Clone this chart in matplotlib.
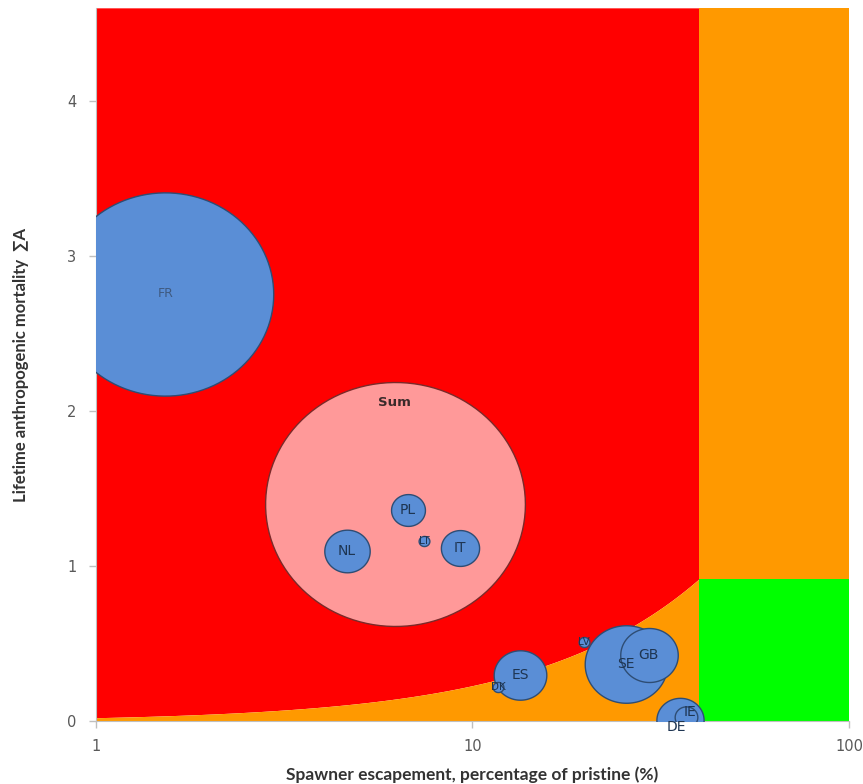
import numpy as np
import matplotlib
matplotlib.use("Agg")
import matplotlib.pyplot as plt
from matplotlib.path import Path
from matplotlib.ticker import FixedLocator, FixedFormatter

# Bubble data: escapement (% of pristine), lifetime mortality, relative size (area)
countries = ["Sum", "FR", "SE", "GB", "ES", "DE", "NL", "IT", "PL", "IE", "DK", "LV", "LT"]
escapement = [6.22, 1.53, 25.6, 29.4, 13.4, 35.6, 4.64, 9.27, 6.74, 36.9, 11.7, 19.8, 7.45]
mortality = [1.40, 2.755, 0.37, 0.43, 0.30, 0.01, 1.10, 1.12, 1.36, 0.03, 0.22, 0.51, 1.16]
bubble_size = [100.0, 69.4, 10.1, 4.9, 4.1, 3.3, 3.05, 2.16, 1.7, 0.76, 0.16, 0.1, 0.06]

# Precautionary limits
blim_pct = 40.0
a_lim = 0.92
y_max = 4.6

small_labels = {"LT", "DK", "LV"}
label_shift = {"DE": (-3, -5), "IE": (3, 3)}  # offset points, to keep labels apart

fig = plt.figure(figsize=(8.63, 7.84), dpi=100)
ax = fig.add_axes([0.111, 0.080, 0.873, 0.910])
ax.set_xscale("log")
ax.set_xlim(1, 100)
ax.set_ylim(0, y_max)

# background zones
xc = np.geomspace(1, blim_pct, 300)
yc = a_lim * xc / blim_pct
ax.fill_between(xc, yc, y_max, color="#FF0000", lw=0, zorder=0)
ax.fill_between(xc, 0, yc, color="#FF9900", lw=0, zorder=0)
ax.fill_between([blim_pct, 100], a_lim, y_max, color="#FF9900", lw=0, zorder=0)
ax.fill_between([blim_pct, 100], 0, a_lim, color="#00FF00", lw=0, zorder=0)

# slightly wide ellipse marker (the original is stretched horizontally)
t = np.linspace(0, 2 * np.pi, 120)
ell = Path(np.column_stack([1.065 * np.cos(t), np.sin(t)]), closed=True)

scale = 350.0  # points^2 per unit of bubble size
for i, name in enumerate(countries):
    face = "#FF9999" if name == "Sum" else "#5A8ED6"
    edge = "#7A2A2A" if name == "Sum" else "#2E4D74"
    sz = bubble_size[i] * scale
    if name in small_labels:
        sz = max(sz, 60)
    ax.scatter(escapement[i], mortality[i], s=sz, marker=ell,
               facecolor=face, edgecolor=edge, linewidth=1.0, zorder=2 + i)

for i, name in enumerate(countries):
    if name == "Sum":
        ax.annotate("Sum", (escapement[i], mortality[i]), xytext=(0, 73),
                    textcoords="offset points", ha="center", va="center",
                    fontsize=9.5, fontweight="bold", color="#3a2a2a", zorder=30)
        continue
    fs = 7.5 if name in small_labels else 10
    col = "#3F5A80" if name == "FR" else "#1E3552"
    ax.annotate(name, (escapement[i], mortality[i]),
                xytext=label_shift.get(name, (0, 0)), textcoords="offset points",
                ha="center", va="center",
                fontsize=9 if name == "FR" else fs, color=col, zorder=30,
                annotation_clip=False)

ax.xaxis.set_major_locator(FixedLocator([1, 10, 100]))
ax.xaxis.set_major_formatter(FixedFormatter(["1", "10", "100"]))
ax.xaxis.set_minor_locator(FixedLocator([]))
ax.set_yticks([0, 1, 2, 3, 4])

for s in ["top", "right"]:
    ax.spines[s].set_visible(False)
for s in ["left", "bottom"]:
    ax.spines[s].set_color("#BFBFBF")
    ax.spines[s].set_zorder(1)
ax.tick_params(axis="both", colors="#BFBFBF", labelcolor="#595959",
               labelsize=10.5, length=5, width=1)
ax.tick_params(axis="x", pad=8)
ax.tick_params(axis="y", pad=9)

ax.set_xlabel("Spawner escapement, percentage of pristine (%)",
              family=["Lato", "DejaVu Sans"], fontweight="bold", fontsize=12.5,
              color="#333333", labelpad=9)
ax.set_ylabel("Lifetime anthropogenic mortality  \u2211A",
              family=["Lato", "DejaVu Sans"], fontweight="bold", fontsize=12,
              color="#333333", labelpad=27)

fig.savefig("out.png", dpi=100)
